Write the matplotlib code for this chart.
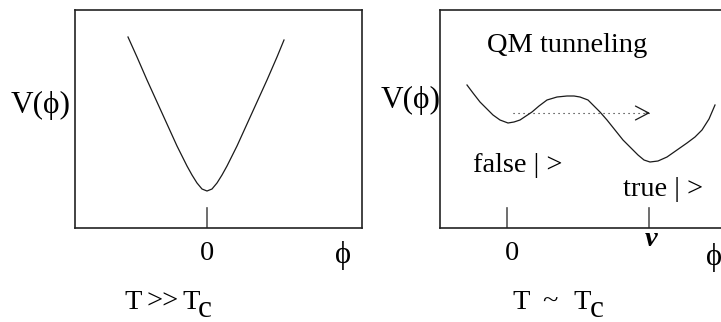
import matplotlib
matplotlib.use("Agg")
import matplotlib.pyplot as plt

plt.rcParams['font.family'] = ['Liberation Serif', 'DejaVu Serif']

# ---- data (x in pixel-like units relative to phi=0, y above the baseline) ----
left_phi = [-79, -70, -60, -50, -40, -30, -20, -15, -10, -5, 0, 5, 10, 15, 20, 30, 40, 50, 60, 70, 77]
left_V = [191, 171, 148, 126, 104, 82, 62, 53, 45, 39, 37, 39, 45, 53, 62, 82, 104, 126, 148, 171, 188]

right_phi = [-40, -34, -27, -20, -14, -7, 1, 7, 13, 19, 25, 32, 40, 50, 60, 67, 73, 81, 86, 93,
             100, 108, 116, 124, 131, 137, 143, 151, 160, 170, 180, 188, 195, 202, 208]
right_V = [143, 135, 126, 119, 113, 108, 105, 106, 108, 112, 116, 122, 128, 131, 132, 132, 131, 128, 123, 116,
           108, 98, 88, 80, 73, 68, 66, 67, 71, 78, 85, 91, 98, 109, 123]

left_ticks = [0]
left_tick_labels = ["0"]
right_ticks = [0, 142]
right_tick_labels = ["0", "ν"]

arrow_y = 115
arrow_x = [6, 143]

W, H = 721, 322
fig = plt.figure(figsize=(W / 100, H / 100), dpi=100)


def fx(px):
    return px / W


def fy(py):
    return 1 - py / H


FS = 20.5
TC = '#1a1a1a'

# left panel
axL = fig.add_axes([fx(75), fy(228), (362 - 75) / W, 218 / H])
axL.plot(left_phi, left_V, color=TC, lw=0.9)
axL.set_xlim(75 - 207, 362 - 207)
axL.set_ylim(0, 218)
for t in left_ticks:
    axL.plot([t, t], [0, 20], color='#555555', lw=1.2)
axL.set_xticks([])
axL.set_yticks([])
for s in axL.spines.values():
    s.set_linewidth(1.2)
    s.set_color('#222222')

# right panel
axR = fig.add_axes([fx(440), fy(228), (721 - 440) / W, 218 / H])
axR.plot(right_phi, right_V, color=TC, lw=0.9)
axR.set_xlim(440 - 507, 721 - 507)
axR.set_ylim(0, 218)
for t in right_ticks:
    axR.plot([t, t], [0, 20], color='#555555', lw=1.2)
axR.set_xticks([])
axR.set_yticks([])
axR.spines['right'].set_visible(False)
for s in ['left', 'top', 'bottom']:
    axR.spines[s].set_linewidth(1.2)
    axR.spines[s].set_color('#222222')

# dotted tunneling arrow
axR.plot(arrow_x, [arrow_y, arrow_y], color=TC, lw=0.8, ls=(0, (1, 3.5)))
axR.annotate('', xy=(arrow_x[1], arrow_y), xytext=(arrow_x[1] - 4, arrow_y),
             arrowprops=dict(arrowstyle='->,head_length=0.95,head_width=0.5',
                             color=TC, lw=0.9, shrinkA=0, shrinkB=0,
                             mutation_scale=10))

# texts, left
fig.text(fx(71), fy(105), "V(ϕ)", ha='right', va='center', fontsize=22.5)
fig.text(fx(207), fy(253), left_tick_labels[0], ha='center', va='center', fontsize=FS)
fig.text(fx(343), fy(256), "ϕ", ha='center', va='center', fontsize=22)
fig.text(fx(124), fy(309), "T", ha='left', va='baseline', fontsize=FS)
fig.text(fx(146), fy(309), ">>", ha='left', va='baseline', fontsize=FS)
fig.text(fx(182), fy(309), "T", ha='left', va='baseline', fontsize=FS)
fig.text(fx(198), fy(317), "c", ha='left', va='baseline', fontsize=FS + 2)

# texts, right
fig.text(fx(487), fy(45), "QM tunneling", ha='left', va='center', fontsize=FS)
fig.text(fx(441), fy(100), "V(ϕ)", ha='right', va='center', fontsize=22.5)
fig.text(fx(473), fy(166), "false | >", ha='left', va='center', fontsize=FS)
fig.text(fx(623), fy(189), "true | >", ha='left', va='center', fontsize=FS)
fig.text(fx(512), fy(253), right_tick_labels[0], ha='center', va='center', fontsize=FS)
fig.text(fx(651), fy(240), right_tick_labels[1], ha='center', va='center', fontsize=FS,
         fontweight='bold', fontstyle='italic')
fig.text(fx(714), fy(258), "ϕ", ha='center', va='center', fontsize=22)
fig.text(fx(512), fy(309), "T", ha='left', va='baseline', fontsize=FS)
fig.text(fx(550), fy(309), "~", ha='center', va='baseline', fontsize=FS)
fig.text(fx(573), fy(309), "T", ha='left', va='baseline', fontsize=FS)
fig.text(fx(590), fy(317), "c", ha='left', va='baseline', fontsize=FS + 2)

fig.savefig("out.png", dpi=100)
